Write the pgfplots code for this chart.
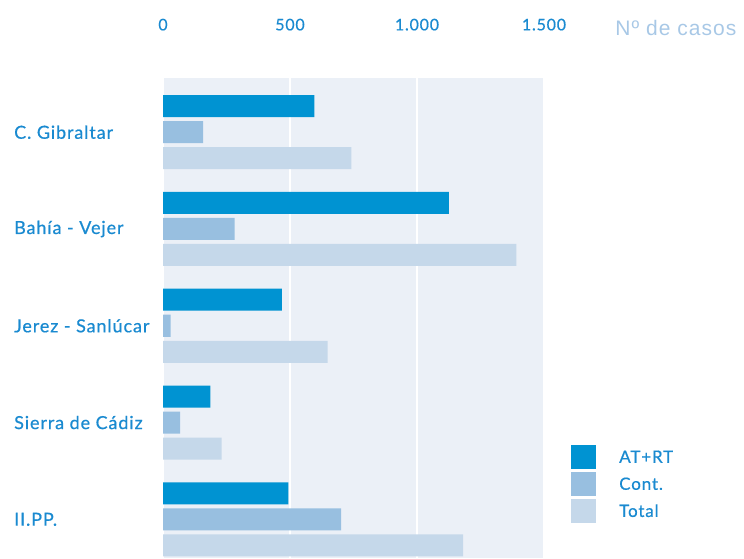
\documentclass[border=0pt]{standalone}
\usepackage{pgfplots}
\pgfplotsset{compat=1.18}
\usepackage{fontspec}
\setmainfont{Lato}
\newfontfamily\helv{Liberation Sans}
\newfontfamily\lbfont[LetterSpace=5,FakeBold=0.6]{Lato}
\definecolor{atrt}{HTML}{0093D2}
\definecolor{cont}{HTML}{98BFE0}
\definecolor{total}{HTML}{C5D8EA}
\definecolor{panel}{HTML}{EBF0F7}
\definecolor{txt}{HTML}{1A8AD0}
\definecolor{lbl}{HTML}{A8C8E6}
\begin{document}
\begin{tikzpicture}[x=1pt,y=1pt]
\useasboundingbox (0,0) rectangle (744,558);
\begin{axis}[
  at={(163pt,0pt)}, anchor=south west,
  scale only axis, width=381pt, height=480pt,
  xbar, y dir=reverse,
  xmin=0, xmax=1500, ymin=-0.56, ymax=4.40,
  xtick={0,500,1000,1500},
  xticklabels={0,500,{1.000},{1.500}},
  xticklabel pos=upper,
  xticklabel shift=44pt,
  ytick={0,1,2,3,4},
  yticklabels={C. Gibraltar,Bahía - Vejer,Jerez - Sanlúcar,Sierra de Cádiz,II.PP.},
  yticklabel style={anchor=west, xshift=-149pt, inner sep=0pt, font=\lbfont\fontsize{18}{21}\selectfont, text=txt},
  xticklabel style={font=\lbfont\fontsize{16}{19}\selectfont, text=txt},
  /pgf/number format/assume math mode=true,
  axis line style={draw=none},
  major tick length=0pt,
  xmajorgrids, major grid style={white, line width=2.5pt},
  axis background/.style={fill=panel},
  bar width=22pt,
  xlabel={\helv\addfontfeature{LetterSpace=5}Nº de casos},
  xlabel style={at={(axis description cs:1.0,1.0)}, anchor=east, font=\fontsize{21}{24}\selectfont, text=lbl, xshift=196pt, yshift=50pt},
  legend style={at={(axis description cs:1.071,0.235)}, anchor=north west, draw=none, fill=none, inner sep=0pt, row sep=3pt, font=\lbfont\fontsize{17}{20}\selectfont, text=txt, nodes={inner sep=0pt, anchor=west}},
  legend cell align=left,
  legend image code/.code={\fill[#1] (0pt,-12pt) rectangle (25pt,12pt); \path (48pt,0pt);},
]
\addplot[fill=atrt, draw=none, bar shift=26pt] coordinates {(596,0) (1125,1) (468,2) (187,3) (494,4)};
\addplot[fill=cont, draw=none, bar shift=0pt] coordinates {(158,0) (282,1) (30,2) (67,3) (701,4)};
\addplot[fill=total, draw=none, bar shift=-26pt] coordinates {(742,0) (1391,1) (648,2) (231,3) (1182,4)};
\legend{AT+RT,Cont.,Total}
\end{axis}
\end{tikzpicture}
\end{document}
